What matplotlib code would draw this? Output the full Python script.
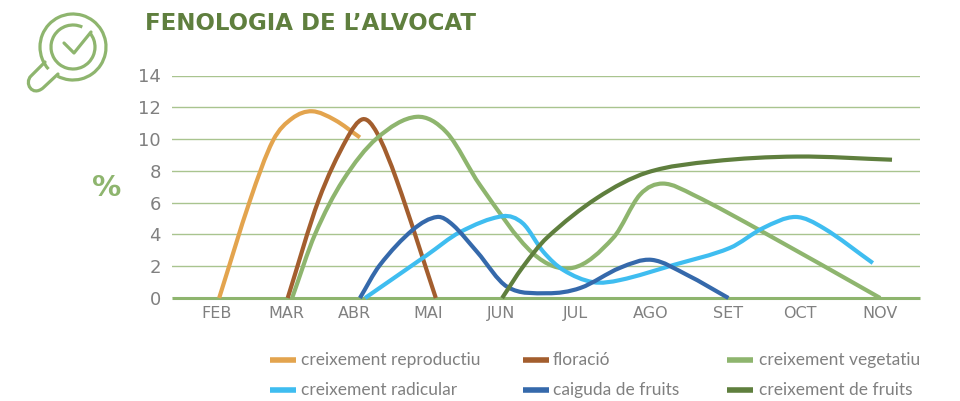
import numpy as np
import matplotlib
matplotlib.use("Agg")
import matplotlib.pyplot as plt
from matplotlib.path import Path
from matplotlib.patches import PathPatch, Arc

# month scale: FEB = 2 ... NOV = 11 (labels are not evenly spaced in the original)
months = ["FEB", "MAR", "ABR", "MAI", "JUN", "JUL", "AGO", "SET", "OCT", "NOV"]
month_pos = [2.00, 2.94, 3.87, 4.86, 5.86, 6.87, 7.88, 8.94, 9.91, 11.00]
yticks = [0, 2, 4, 6, 8, 10, 12, 14]

repro_x = [2.03, 2.45, 2.76, 3.02, 3.29, 3.60, 3.94]
repro_y = [0, 6.16, 9.9, 11.3, 11.75, 11.2, 10.1]

flor_x = [2.96, 3.38, 3.76, 3.98, 4.17, 4.44, 4.97]
flor_y = [0, 6.16, 10.0, 11.25, 10.4, 7.4, 0]

veg_x = [3.02, 3.33, 3.71, 4.17, 4.71, 5.12, 5.57, 6.29, 6.83, 7.38, 7.74, 8.05, 8.46, 9.41, 11.00]
veg_y = [0, 4.0, 7.4, 10.05, 11.4, 10.4, 7.1, 2.8, 1.9, 3.8, 6.5, 7.2, 6.5, 4.15, 0]

rad_x = [4.01, 4.85, 5.30, 5.88, 6.15, 6.43, 6.70, 7.10, 7.47, 8.19, 8.96, 9.41, 9.85, 10.23, 10.90]
rad_y = [0, 2.7, 4.15, 5.15, 4.7, 2.9, 1.76, 1.0, 1.13, 2.07, 3.15, 4.4, 5.1, 4.4, 2.2]

caig_x = [3.94, 4.21, 4.66, 4.99, 5.20, 5.53, 5.94, 6.48, 6.93, 7.47, 7.90, 8.38, 8.94]
caig_y = [0, 2.07, 4.3, 5.1, 4.6, 2.9, 0.7, 0.3, 0.63, 1.9, 2.4, 1.45, 0]

fruit_x = [5.87, 6.15, 6.48, 7.16, 7.84, 8.73, 9.87, 11.16]
fruit_y = [0, 1.95, 3.8, 6.3, 7.9, 8.6, 8.9, 8.7]

ORANGE = "#e3a44e"
BROWN = "#a35e2e"
LGREEN = "#8eb56e"
SKY = "#3fbdf0"
BLUE = "#3569ab"
DGREEN = "#5f7f3e"
GREY = "#808080"

series = [
    ("creixement reproductiu", repro_x, repro_y, ORANGE),
    ("floració", flor_x, flor_y, BROWN),
    ("creixement vegetatiu", veg_x, veg_y, LGREEN),
    ("creixement radicular", rad_x, rad_y, SKY),
    ("caiguda de fruits", caig_x, caig_y, BLUE),
    ("creixement de fruits", fruit_x, fruit_y, DGREEN),
]


def smooth_path(xs, ys):
    # cubic hermite through the points, slope is the secant over the neighbours
    xs = np.asarray(xs, float)
    ys = np.asarray(ys, float)
    slopes = np.zeros(len(xs))
    slopes[1:-1] = (ys[2:] - ys[:-2]) / (xs[2:] - xs[:-2])
    slopes[0] = (ys[1] - ys[0]) / (xs[1] - xs[0])
    slopes[-1] = (ys[-1] - ys[-2]) / (xs[-1] - xs[-2])
    verts = [(xs[0], ys[0])]
    codes = [Path.MOVETO]
    for i in range(len(xs) - 1):
        dx = (xs[i + 1] - xs[i]) / 3
        verts += [(xs[i] + dx, ys[i] + slopes[i] * dx),
                  (xs[i + 1] - dx, ys[i + 1] - slopes[i + 1] * dx),
                  (xs[i + 1], ys[i + 1])]
        codes += [Path.CURVE4] * 3
    return Path(verts, codes)


W, H = 960, 401
fig = plt.figure(figsize=(W / 100, H / 100), dpi=100, facecolor="white")

# axes box taken from the gridlines
left, right, top, bottom = 172, 920, 75.5, 298
ax = fig.add_axes([left / W, 1 - bottom / H, (right - left) / W, (bottom - top) / H])
ax.set_xlim(1.39, 11.54)
ax.set_ylim(0, 14)
for s in ax.spines.values():
    s.set_visible(False)
ax.set_yticks(yticks)
ax.set_yticklabels([str(v) for v in yticks], fontsize=13, color=GREY, family="DejaVu Sans")
ax.set_xticks(month_pos)
ax.set_xticklabels(months, fontsize=11.5, color=GREY, family="DejaVu Sans")
ax.tick_params(axis="both", length=0)
ax.tick_params(axis="y", pad=8)
ax.tick_params(axis="x", pad=6)
ax.grid(axis="y", color="#a9c48f", lw=1.0)
ax.set_axisbelow(True)

for name, xs, ys, col in series:
    ax.add_patch(PathPatch(smooth_path(xs, ys), fc="none", ec=col, lw=3.0,
                           capstyle="butt", clip_on=False, zorder=3))
ax.plot([1.39, 11.54], [0, 0], color=LGREEN, lw=2.2, clip_on=False, zorder=2.5,
        solid_capstyle="butt")

# overlay in picture pixels for icon, title and legend
ov = fig.add_axes([0, 0, 1, 1], facecolor="none")
ov.set_xlim(0, W)
ov.set_ylim(H, 0)
ov.axis("off")

ov.text(145, 24, "FENOLOGIA DE L’ALVOCAT", fontsize=16.5, fontweight="bold",
        color=DGREEN, va="center", ha="left", family="DejaVu Sans")
ov.text(107, 188, "%", fontsize=21, fontweight="bold", color=LGREEN,
        va="center", ha="center", family="DejaVu Sans")

# magnifier icon
ilw = 2.3
ov.add_patch(Arc((73, 47), 66, 66, theta1=-222, theta2=118, ec=LGREEN, lw=ilw))
ov.add_patch(Arc((73, 47), 44, 44, theta1=-40, theta2=295, ec=LGREEN, lw=ilw))
ov.plot([64, 74, 91], [43, 53, 32], color=LGREEN, lw=ilw, solid_capstyle="round")
handle = Path([(45, 62), (31, 76), (24, 83), (32, 97), (43, 88), (58, 74)],
              [Path.MOVETO, Path.LINETO, Path.CURVE4, Path.CURVE4, Path.CURVE4, Path.LINETO])
ov.add_patch(PathPatch(handle, fc="none", ec=LGREEN, lw=ilw, capstyle="round"))

# legend
col_swatch = [270, 523, 727]
col_text = [301, 553, 759]
row_y = [360, 390]
for i, (name, xs, ys, col) in enumerate(series):
    c = i % 3
    r = i // 3
    ov.plot([col_swatch[c], col_swatch[c] + 26], [row_y[r], row_y[r]], color=col, lw=4,
            solid_capstyle="butt")
    ov.text(col_text[c], row_y[r], name, fontsize=12.5, color=GREY, va="center", ha="left",
            family="Lato")

fig.savefig("out.png", dpi=100)
